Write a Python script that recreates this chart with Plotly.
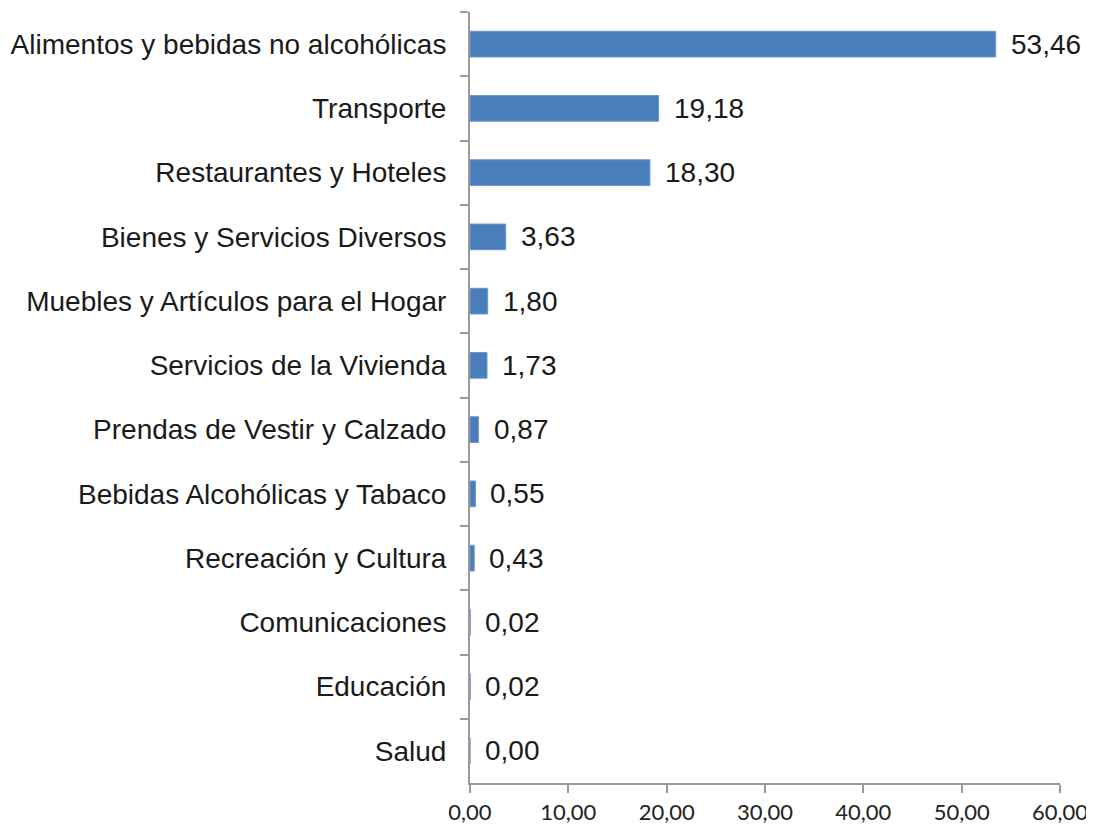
import plotly.graph_objects as go

categories = [
    "Alimentos y bebidas no alcohólicas",
    "Transporte",
    "Restaurantes y Hoteles",
    "Bienes y Servicios Diversos",
    "Muebles y Artículos para el Hogar",
    "Servicios de la Vivienda",
    "Prendas de Vestir y Calzado",
    "Bebidas Alcohólicas y Tabaco",
    "Recreación y Cultura",
    "Comunicaciones",
    "Educación",
    "Salud",
]
values = [53.46, 19.18, 18.30, 3.63, 1.80, 1.73, 0.87, 0.55, 0.43, 0.02, 0.02, 0.00]
x_ticks = [0, 10, 20, 30, 40, 50, 60]

fig = go.Figure()
fig.add_trace(go.Bar(
    y=categories, x=values, orientation="h",
    marker=dict(color="#4A7EBB", line=dict(color="#6D98CC", width=1)),
    width=0.4,
    hoverinfo="skip",
))

for c, v in zip(categories, values):
    fig.add_annotation(
        x=v, y=c, text=f"{v:.2f}".replace(".", ","),
        xanchor="left", yanchor="middle", showarrow=False, xshift=13,
        font=dict(family="Liberation Sans, Arial", size=28, color="#1a1a1a"),
    )

fig.update_layout(
    width=1086, height=818,
    margin=dict(l=462, r=34, t=4, b=43, autoexpand=False),
    paper_bgcolor="white", plot_bgcolor="white",
    separators=",.",
    showlegend=False,
    font=dict(family="Liberation Sans, Arial", color="#1a1a1a"),
)
fig.update_xaxes(
    range=[0, 60], tickvals=x_ticks, tickformat=".2f",
    showgrid=False, zeroline=False, automargin=False,
    showline=True, linecolor="#9A9A9A", linewidth=2,
    ticks="outside", ticklen=8, tickwidth=2, tickcolor="#9A9A9A",
    tickfont=dict(family="Lato, Open Sans", size=22, color="#222222"),
    ticklabelstandoff=1, ticklabeloverflow="allow",
)
fig.update_yaxes(
    autorange="reversed", type="category",
    showgrid=False, zeroline=False, automargin=False,
    showline=True, linecolor="#9A9A9A", linewidth=2,
    ticks="outside", tickson="boundaries", ticklen=8, tickwidth=2, tickcolor="#9A9A9A",
    tickfont=dict(family="Liberation Sans, Arial", size=28, color="#1a1a1a"),
    ticklabelstandoff=16,
)

fig.write_html("out.html")
